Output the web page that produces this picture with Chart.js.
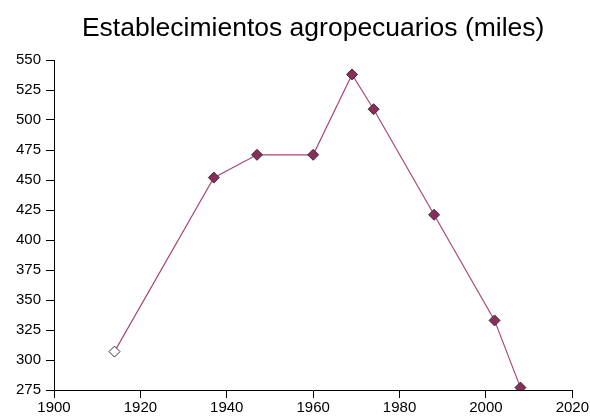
<!DOCTYPE html>
<html>
<head>
<meta charset="utf-8">
<script src="https://cdn.jsdelivr.net/npm/chart.js@4"></script>
<style>
  html, body { margin: 0; padding: 0; background: #fff; }
  #wrap { width: 590px; height: 416px; }
</style>
</head>
<body>
<div id="wrap"><canvas id="chart" width="590" height="416"></canvas></div>
<script>
// census years and farm counts (thousands)
const years = [1914, 1937, 1947, 1960, 1969, 1974, 1988, 2002, 2008];
const values = [307, 452, 471, 471, 538, 509, 421, 333, 277];
const xTicks = [1900, 1920, 1940, 1960, 1980, 2000, 2020];
const yTicks = [275, 300, 325, 350, 375, 400, 425, 450, 475, 500, 525, 550];

const titleText = 'Establecimientos agropecuarios (miles)';
const markerFill = years.map((y, i) => i === 0 ? '#ffffff' : '#8c2c5c');
const fontFam = 'Liberation Sans, Arial, sans-serif';

// title centred over the plot area rather than the whole canvas
const plotTitle = {
    id: 'plotTitle',
    afterDraw(chart) {
        const { ctx, chartArea } = chart;
        ctx.save();
        ctx.font = `26.5px ${fontFam}`;
        ctx.fillStyle = '#000';
        ctx.textAlign = 'center';
        ctx.textBaseline = 'middle';
        ctx.fillText(titleText, (chartArea.left + chartArea.right) / 2, 29);
        ctx.restore();
    }
};

const ctx = document.getElementById('chart').getContext('2d');
new Chart(ctx, {
    type: 'scatter',
    data: {
        datasets: [{
            data: years.map((y, i) => ({ x: y, y: values[i] })),
            showLine: true,
            borderColor: '#a8487a',
            borderWidth: 1.2,
            pointStyle: 'rectRot',
            pointRadius: 5.5,
            pointBackgroundColor: markerFill,
            pointBorderColor: '#333333',
            pointBorderWidth: 1
        }]
    },
    plugins: [plotTitle],
    options: {
        responsive: false,
        animation: false,
        events: [],
        layout: { padding: { left: 0, right: 0, top: 60, bottom: 0 } },
        plugins: {
            legend: { display: false },
            tooltip: { enabled: false },
            title: { display: false }
        },
        scales: {
            x: {
                type: 'linear',
                min: xTicks[0],
                max: xTicks[xTicks.length - 1],
                afterBuildTicks: axis => { axis.ticks = xTicks.map(v => ({ value: v })); },
                afterFit: axis => { axis.height = 26; },
                ticks: {
                    color: '#000',
                    font: { family: fontFam, size: 15 },
                    callback: v => String(v),
                    padding: 1,
                    maxRotation: 0
                },
                grid: { drawOnChartArea: false, drawTicks: true, tickLength: 8, color: '#000' },
                border: { color: '#000', width: 1 }
            },
            y: {
                min: yTicks[0],
                max: yTicks[yTicks.length - 1],
                afterBuildTicks: axis => { axis.ticks = yTicks.map(v => ({ value: v })); },
                afterFit: axis => { axis.width = 54; },
                ticks: {
                    color: '#000',
                    font: { family: fontFam, size: 15 },
                    padding: 5
                },
                grid: { drawOnChartArea: false, drawTicks: true, tickLength: 8, color: '#000' },
                border: { color: '#000', width: 1 }
            }
        }
    }
});
</script>
</body>
</html>
